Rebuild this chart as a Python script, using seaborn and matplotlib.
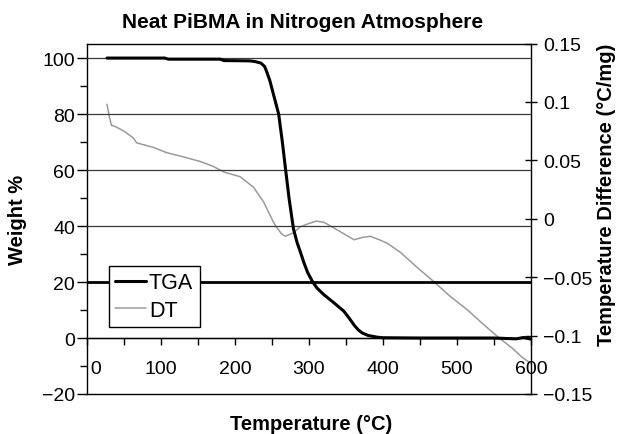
import matplotlib
matplotlib.use("Agg")
import matplotlib.pyplot as plt
import seaborn as sns
import pandas as pd
from matplotlib.lines import Line2D
from matplotlib.ticker import MultipleLocator

# TGA: weight % vs temperature (left axis)
tga_temp = [27, 60, 105, 110, 180, 185, 220, 228, 235, 240, 243, 247, 252, 256,
            259, 264, 268, 273, 279, 284, 288, 293, 298, 305, 311, 320, 334,
            347, 354, 361, 367, 372, 380, 392, 400, 450, 500, 550, 580, 590, 600]
tga_weight = [100, 100, 100, 99.6, 99.6, 99.1, 99, 98.7, 98.2, 97, 95, 92, 87, 83,
              80, 70, 61, 50, 39, 34, 31, 27, 23.5, 20, 17.8, 15.5, 12.5,
              9.6, 7.2, 4.6, 2.8, 1.8, 0.9, 0.3, 0.1, 0, 0, 0,
              -0.3, 0.2, -0.4]

# DT: temperature difference vs temperature (right axis)
dt_temp = [27, 30, 33, 38, 50, 63, 67, 90, 108, 130, 153, 170, 185, 207, 225,
           239, 252, 257, 263, 268, 279, 288, 300, 310, 320, 334, 350, 361,
           372, 383, 395, 406, 424, 445, 469, 490, 514, 535, 555, 575, 587, 600]
dt_value = [0.098, 0.088, 0.080, 0.079, 0.075, 0.069, 0.065, 0.061, 0.0565,
            0.053, 0.049, 0.045, 0.040, 0.036, 0.027, 0.014, -0.003, -0.008,
            -0.013, -0.015, -0.012, -0.007, -0.004, -0.002, -0.003, -0.008,
            -0.014, -0.018, -0.016, -0.015, -0.018, -0.021, -0.029, -0.041,
            -0.054, -0.066, -0.078, -0.090, -0.101, -0.111, -0.118, -0.124]

x_ticklabels = ["\u20090", "100", "200", "300", "400", "500", "600"]

sns.set_theme(style="white")
plt.rcParams["font.family"] = ["Liberation Sans", "DejaVu Sans"]
plt.rcParams["text.color"] = "black"
plt.rcParams["xtick.color"] = "black"
plt.rcParams["ytick.color"] = "black"
plt.rcParams["axes.labelcolor"] = "black"

tga = pd.DataFrame({"temp": tga_temp, "weight": tga_weight})
dt = pd.DataFrame({"temp": dt_temp, "dt": dt_value})

fig = plt.figure(figsize=(6.22, 4.35), dpi=100)
ax = fig.add_axes([87 / 622, 1 - 395 / 435, 444 / 622, 350.5 / 435])
ax2 = ax.twinx()

# gridlines
for v in [0, 40, 60, 80, 100]:
    ax.axhline(v, color="#3a3a3a", lw=0.9, zorder=1)
ax.axhline(20, color="black", lw=2.0, zorder=1)

sns.lineplot(data=dt, x="temp", y="dt", ax=ax2, color="#9a9a9a", lw=1.1)
sns.lineplot(data=tga, x="temp", y="weight", ax=ax, color="black", lw=2.2)

ax.set_zorder(ax2.get_zorder() + 1)
ax.patch.set_visible(False)

ax.set_xlim(0, 600)
ax.set_ylim(-20, 105.2)
ax2.set_ylim(-0.15, 0.15)

ax.xaxis.set_minor_locator(MultipleLocator(50))
ax.yaxis.set_minor_locator(MultipleLocator(10))
ax.set_yticks([-20, 0, 20, 40, 60, 80, 100])
ax.set_yticklabels(["\u221220", "0", "20", "40", "60", "80", "100"])
ax2.set_yticks([-0.15, -0.1, -0.05, 0, 0.05, 0.1, 0.15])
ax2.set_yticklabels(["\u22120.15", "\u22120.1", "\u22120.05", "0", "0.05", "0.1", "0.15"])

# x axis crosses at weight 0
ax.spines["bottom"].set_position(("data", 0))
for s in ["top", "right", "left"]:
    ax.spines[s].set_visible(False)
for s in ax2.spines.values():
    s.set_color("black")
    s.set_linewidth(1.0)
ax.spines["bottom"].set_color("black")
ax.spines["bottom"].set_linewidth(1.0)

ax.tick_params(axis="x", which="both", direction="out", length=5, width=1,
               labelsize=14, pad=11, bottom=True)
ax.tick_params(axis="y", which="major", direction="out", length=7, width=1,
               labelsize=14, pad=1.5, left=True)
ax.tick_params(axis="y", which="minor", direction="out", length=5, width=1, left=True)
ax2.tick_params(axis="y", which="major", direction="inout", length=8, width=1,
                labelsize=14, pad=5, right=True)
ax2.tick_params(axis="x", bottom=False, labelbottom=False)

# the "0" label sits right of the left spine
ax.set_xticks([0, 100, 200, 300, 400, 500, 600])
ax.set_xticklabels(x_ticklabels)
ax.xaxis.get_major_ticks()[0].label1.set_horizontalalignment("left")

ax.set_xlabel("")
ax.set_ylabel("")
ax2.set_ylabel("")

fig.text(303 / 622, 1 - 28 / 435, "Neat PiBMA in Nitrogen Atmosphere", ha="center",
         va="baseline", fontsize=15, fontweight="bold")
fig.text(311 / 622, 1 - 430 / 435, "Temperature (\u00b0C)", ha="center", va="baseline",
         fontsize=14.5, fontweight="bold")
fig.text(18 / 622, 1 - 220 / 435, "Weight %", ha="center", va="center",
         rotation=90, fontsize=14.5, fontweight="bold")
fig.text(607 / 622, 1 - 195 / 435, "Temperature Difference (\u00b0C/mg)", ha="center",
         va="center", rotation=90, fontsize=14.5, fontweight="bold")

handles = [Line2D([], [], color="black", lw=2.2),
           Line2D([], [], color="#9a9a9a", lw=1.1)]
leg = ax.legend(handles, ["TGA", "DT"], loc="lower left",
                bbox_to_anchor=(0.0495, 0.191), fontsize=15.5, frameon=True,
                fancybox=False, borderpad=0.3, handlelength=1.4,
                handletextpad=0.15, labelspacing=0.3, borderaxespad=0)
leg.get_frame().set_edgecolor("black")
leg.get_frame().set_linewidth(1.0)
leg.get_frame().set_alpha(1)

fig.savefig("out.png", dpi=100)
